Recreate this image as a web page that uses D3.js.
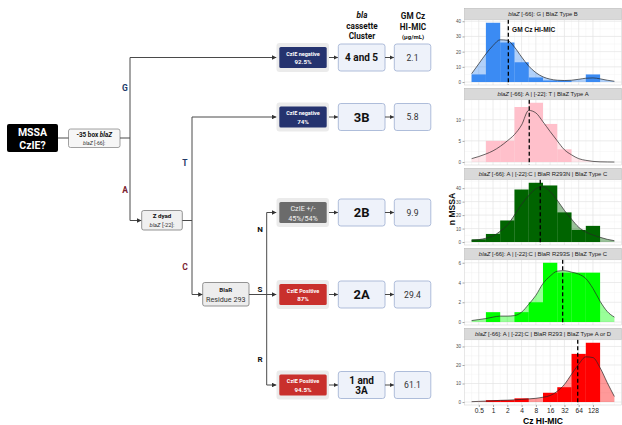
<!DOCTYPE html>
<meta charset='utf-8'>
<style>
body { margin: 0; background: #fff; }
svg { display: block; font-family: Roboto, 'Liberation Sans', sans-serif; }
.flow-line { stroke: #4a4a4a; stroke-width: 1; fill: none; }
.gg text { font-family: 'Liberation Sans', Arial, sans-serif; }
.axis .domain { display: none; }
.axis line { stroke: #555; stroke-width: 0.5; }
</style>
<svg width='622' height='425'></svg>
<script src='https://cdnjs.cloudflare.com/ajax/libs/d3/7.8.5/d3.min.js'></script>
<script>

// ---- histogram data (one entry per MIC doubling, centred on log2 value) ----
const micLabels = ['0.5', '1', '2', '4', '8', '16', '32', '64', '128'];
const micLog2 = [-1, 0, 1, 2, 3, 4, 5, 6, 7];

const countsTypeB = [5, 39, 26, 13, 3, 1, 1, 0, 5];
const countsTypeA = [0, 5, 5, 13, 14, 9, 3, 0, 0];
const countsR293N = [2, 6, 16, 39, 44, 42, 22, 9, 12];
const countsR293S = [0, 1, 0, 1, 2, 6, 5, 5, 5];
const countsR293 = [0, 1, 1, 2, 0, 5, 8, 26, 32];

// density curve at these log2 positions
const densityX = [-1.5, -1, -0.5, 0, 0.5, 1, 1.5, 2, 2.5, 3, 3.5, 4, 4.5, 5, 5.5, 6, 6.5, 7, 7.5, 8, 8.5];
const densityTypeB = [5.5, 12, 18.5, 24, 27.8, 27.5, 23, 16.5, 10.5, 6.2, 3.4, 1.9, 1.2, 1.0, 1.2, 1.8, 2.5, 2.7, 2.1, 1.2, 0.5];
const densityTypeA = [0.8, 1.3, 1.9, 2.65, 3.7, 5, 6.5, 8.75, 12.2, 11.6, 9.5, 7.2, 5, 2.9, 1.7, 0.8, 0.4, 0.15, 0.05, 0.02, 0];
const densityR293N = [1.2, 1.8, 2.8, 4.5, 8, 12.5, 20, 28, 34.5, 39.5, 41, 37.5, 31, 23.5, 17, 11, 7.5, 5.2, 3.5, 2, 1];
const densityR293S = [0.15, 0.25, 0.35, 0.5, 0.6, 0.6, 0.65, 1.0, 1.8, 2.7, 3.9, 4.65, 5.15, 5.2, 5.05, 4.85, 4.4, 3.4, 2.1, 1.07, 0.5];
const densityR293 = [0.2, 0.35, 0.5, 0.7, 0.9, 1.0, 1.2, 1.4, 1.7, 2.0, 2.6, 3.5, 5.8, 9.5, 15, 20.4, 24.4, 24, 18.5, 10.5, 3];

const gmValues = [2.1, 5.8, 9.9, 29.4, 61.1];
const stripRest = [' [-66]: G | BlaZ Type B', ' [-66]: A | [-22]: T | BlaZ Type A',
    ' [-66]: A | [-22]:C | BlaR R293N | BlaZ Type C', ' [-66]: A | [-22]:C | BlaR R293S | BlaZ Type C',
    ' [-66]: A | [-22]:C | BlaR R293 | BlaZ Type A or D'];

// ---- flowchart data ----
const czieLine1 = ['CzIE negative', 'CzIE negative', 'CzIE +/-', 'CzIE Positive', 'CzIE Positive'];
const czieLine2 = ['92.5%', '74%', '45%/54%', '87%', '94.5%'];
const clusters = [['4 and 5'], ['3B'], ['2B'], ['2A'], ['1 and', '3A']];

const histColors = ['#3b8bf3', '#ffc0cb', '#006400', '#00ff00', '#ff0000'];
const czieColors = ['#25336f', '#25336f', '#6b6b6b', '#c9302c', '#c9302c'];

const svg = d3.select('svg');

// arrow head
svg.append('defs').append('marker')
    .attr('id', 'arrow')
    .attr('viewBox', '0 0 6 6')
    .attr('refX', 6).attr('refY', 3)
    .attr('markerWidth', 4.5).attr('markerHeight', 4.5)
    .attr('orient', 'auto')
    .append('path').attr('d', 'M0,0L6,3L0,6Z').attr('fill', '#333');

// ================= flowchart =================
const flow = svg.append('g');
const rowY = [57.5, 117, 212.5, 294.5, 385];

function link(points, arrow) {
    flow.append('path')
        .attr('class', 'flow-line')
        .attr('d', d3.line()(points))
        .attr('marker-end', arrow ? 'url(#arrow)' : null);
}

function label(x, y, txt, size, weight, fill, style) {
    return flow.append('text')
        .attr('x', x).attr('y', y)
        .attr('text-anchor', 'middle')
        .attr('font-size', size)
        .attr('font-weight', weight || 'normal')
        .attr('font-style', style || 'normal')
        .attr('fill', fill || '#111')
        .text(txt);
}

// MSSA start box
flow.append('rect').attr('x', 7).attr('y', 124).attr('width', 51).attr('height', 28).attr('rx', 2).attr('fill', '#000');
label(32.5, 135.5, 'MSSA', 10.5, 'bold', '#fff');
label(32.5, 148.5, 'CzIE?', 10.5, 'bold', '#fff');

// -35 box
flow.append('rect').attr('x', 68.5).attr('y', 129).attr('width', 51.5).attr('height', 18.5).attr('rx', 2)
    .attr('fill', '#f6f6f6').attr('stroke', '#8a8a8a').attr('stroke-width', 0.8);
const t35 = label(94.2, 136.5, '', 6.4, 'bold');
t35.append('tspan').text('-35 box ');
t35.append('tspan').attr('font-style', 'italic').text('blaZ');
const t66 = label(94.2, 144.8, '', 5.2, 'normal', '#333');
t66.append('tspan').attr('font-style', 'italic').text('blaZ');
t66.append('tspan').text(' [-66]:');

link([[58, 138], [68.5, 138]]);
link([[120, 138], [130, 138]]);
link([[130, 57.5], [130, 220.5]]);
link([[130, 57.5], [276.5, 57.5]], true);
link([[130, 220.5], [141.5, 220.5]], true);

// Z dyad box
flow.append('rect').attr('x', 141.7).attr('y', 210.5).attr('width', 40.6).attr('height', 19.5).attr('rx', 2)
    .attr('fill', '#f0f0f0').attr('stroke', '#7a7a7a').attr('stroke-width', 0.8);
label(162, 217.5, 'Z dyad', 6.2, 'bold');
const t22 = label(162, 226.5, '', 5.8, 'normal', '#333');
t22.append('tspan').attr('font-style', 'italic').text('blaZ');
t22.append('tspan').text(' [-22]:');

link([[182.3, 220.5], [192, 220.5]]);
link([[192, 117], [192, 294.5]]);
link([[192, 117], [276.5, 117]], true);
link([[192, 294.5], [202.7, 294.5]], true);

// BlaR box
flow.append('rect').attr('x', 202.7).attr('y', 282.5).attr('width', 46.3).attr('height', 23.5).attr('rx', 2)
    .attr('fill', '#ededed').attr('stroke', '#7a7a7a').attr('stroke-width', 0.8);
label(225.8, 291.5, 'BlaR', 6.2, 'bold', '#222');
label(225.8, 301.5, 'Residue 293', 7.2, 'normal', '#333');

link([[249, 294.5], [276.5, 294.5]], true);
link([[266.7, 212.5], [266.7, 385]]);
link([[266.7, 212.5], [276.5, 212.5]], true);
link([[266.7, 385], [276.5, 385]], true);

// branch letters
label(125, 91, 'G', 8.5, 'bold', '#223a68');
label(125, 193, 'A', 8.5, 'bold', '#7a2330');
label(185, 165.5, 'T', 8.5, 'bold', '#223a68');
label(185, 269.5, 'C', 8.5, 'bold', '#7a2330');
label(260, 232, 'N', 8, 'bold', '#111');
label(260, 292, 'S', 8, 'bold', '#111');
label(260, 362, 'R', 8, 'bold', '#111');

// column headers
label(362, 18, 'bla', 8.2, 'bold', '#111', 'italic');
label(362, 28.6, 'cassette', 8.2, 'bold', '#111');
label(362, 38.9, 'Cluster', 8.2, 'bold', '#111');
label(413, 18.8, 'GM Cz', 8.2, 'bold', '#111');
label(413, 29.5, 'HI-MIC', 8.2, 'bold', '#111');
label(413, 38.9, '(\u00b5g/mL)', 6, 'bold', '#111');

// result rows
rowY.forEach((cy, i) => {
    flow.append('rect').attr('x', 276.5).attr('y', cy - 14.5).attr('width', 52.5).attr('height', 29).attr('rx', 3)
        .attr('fill', '#ebebeb');
    flow.append('rect').attr('x', 279.3).attr('y', cy - 10.5).attr('width', 47.4).attr('height', 21).attr('rx', 1.5)
        .attr('fill', czieColors[i]);
    if (i === 2) {
        label(303, cy - 1.6, czieLine1[i], 7.2, 'normal', '#f2f2f2');
        label(303, cy + 8.4, czieLine2[i], 7.2, 'normal', '#f2f2f2');
    } else {
        label(303, cy - 1.8, czieLine1[i], 5.5, 'bold', '#fff');
        label(303, cy + 6.8, czieLine2[i], 6.2, 'bold', '#fff');
    }

    link([[329, cy], [338, cy]], true);
    flow.append('rect').attr('x', 338.3).attr('y', cy - 13.5).attr('width', 46.7).attr('height', 27).attr('rx', 2.5)
        .attr('fill', '#eef2fa').attr('stroke', '#a6b5d6').attr('stroke-width', 0.9);
    const c = clusters[i];
    if (c.length === 2) {
        label(361.6, cy - 1.4, c[0], 10, 'bold');
        label(361.6, cy + 9.3, c[1], 10, 'bold');
    } else if (c[0].length > 3) {
        label(361.6, cy + 3.6, c[0], 10, 'bold');
    } else {
        label(361.6, cy + 4.6, c[0], 13, 'bold');
    }

    link([[385, cy], [394, cy]], true);
    flow.append('rect').attr('x', 394.3).attr('y', cy - 13.5).attr('width', 36.5).attr('height', 27).attr('rx', 2.5)
        .attr('fill', '#eef2fa').attr('stroke', '#a6b5d6').attr('stroke-width', 0.9);
    label(412.5, cy + 3, gmValues[i], 8.6, 'normal', '#333');
});

// ================= histograms =================
const gg = svg.append('g').attr('class', 'gg');
const panels = [
    { counts: countsTypeB, density: densityTypeB },
    { counts: countsTypeA, density: densityTypeA },
    { counts: countsR293N, density: densityR293N },
    { counts: countsR293S, density: densityR293S },
    { counts: countsR293, density: densityR293 }
];

const xScale = d3.scaleLinear().domain([-2, 9]).range([464.5, 621.5]);
const xMinor = d3.range(-1.5, 8.6, 1);

panels.forEach((p, i) => {
    const stripTop = 8.3 + 80 * i,
        plotTop = stripTop + 11.5,
        plotBot = plotTop + 65.2;
    const yMax = Math.max(d3.max(p.counts), d3.max(p.density));
    const yScale = d3.scaleLinear().domain([-0.05 * yMax, 1.05 * yMax]).range([plotBot, plotTop]);
    const yTicks = yScale.ticks(4);
    const step = yTicks[1] - yTicks[0];
    const yMinor = yTicks.map(t => t + step / 2).filter(t => t < yScale.domain()[1]);

    const g = gg.append('g');

    // strip
    g.append('rect').attr('x', xScale.range()[0]).attr('y', stripTop)
        .attr('width', xScale.range()[1] - xScale.range()[0]).attr('height', 11.5)
        .attr('fill', '#d9d9d9').attr('stroke', '#b3b3b3').attr('stroke-width', 0.5);
    const st = g.append('text').attr('x', (xScale.range()[0] + xScale.range()[1]) / 2).attr('y', stripTop + 8)
        .attr('text-anchor', 'middle').attr('font-size', 5.9).attr('fill', '#1a1a1a');
    st.append('tspan').attr('font-style', 'italic').text('blaZ');
    st.append('tspan').text(stripRest[i]);

    // panel background + grid
    g.append('rect').attr('x', xScale.range()[0]).attr('y', plotTop)
        .attr('width', xScale.range()[1] - xScale.range()[0]).attr('height', plotBot - plotTop)
        .attr('fill', '#fff');
    g.selectAll('.xminor').data(xMinor).join('line')
        .attr('x1', d => xScale(d)).attr('x2', d => xScale(d)).attr('y1', plotTop).attr('y2', plotBot)
        .attr('stroke', '#f2f2f2').attr('stroke-width', 0.5);
    g.selectAll('.yminor').data(yMinor).join('line')
        .attr('x1', xScale.range()[0]).attr('x2', xScale.range()[1]).attr('y1', d => yScale(d)).attr('y2', d => yScale(d))
        .attr('stroke', '#f2f2f2').attr('stroke-width', 0.5);
    g.selectAll('.xmajor').data(micLog2).join('line')
        .attr('x1', d => xScale(d)).attr('x2', d => xScale(d)).attr('y1', plotTop).attr('y2', plotBot)
        .attr('stroke', '#e4e4e4').attr('stroke-width', 0.7);
    g.selectAll('.ymajor').data(yTicks).join('line')
        .attr('x1', xScale.range()[0]).attr('x2', xScale.range()[1]).attr('y1', d => yScale(d)).attr('y2', d => yScale(d))
        .attr('stroke', '#e4e4e4').attr('stroke-width', 0.7);

    // density area under the bars
    const pts = densityX.map((x, k) => [x, p.density[k]]);
    g.append('path').datum(pts)
        .attr('d', d3.area().x(d => xScale(d[0])).y0(yScale(0)).y1(d => yScale(d[1])).curve(d3.curveMonotoneX))
        .attr('fill', histColors[i]).attr('fill-opacity', 0.4);

    // histogram bars
    g.selectAll('.bar').data(p.counts.map((c, k) => [micLog2[k], c]).filter(d => d[1] > 0)).join('rect')
        .attr('x', d => xScale(d[0] - 0.5))
        .attr('width', d => xScale(d[0] + 0.5) - xScale(d[0] - 0.5))
        .attr('y', d => yScale(d[1]))
        .attr('height', d => yScale(0) - yScale(d[1]))
        .attr('fill', histColors[i]);

    // density line
    g.append('path').datum(pts)
        .attr('d', d3.line().x(d => xScale(d[0])).y(d => yScale(d[1])).curve(d3.curveMonotoneX))
        .attr('fill', 'none').attr('stroke', '#262626').attr('stroke-width', 0.7);

    // geometric mean
    g.append('line')
        .attr('x1', xScale(Math.log2(gmValues[i]))).attr('x2', xScale(Math.log2(gmValues[i])))
        .attr('y1', plotTop).attr('y2', plotBot)
        .attr('stroke', '#000').attr('stroke-width', 1.3).attr('stroke-dasharray', '4,2.5');

    g.append('rect').attr('x', xScale.range()[0]).attr('y', plotTop)
        .attr('width', xScale.range()[1] - xScale.range()[0]).attr('height', plotBot - plotTop)
        .attr('fill', 'none').attr('stroke', '#cfcfcf').attr('stroke-width', 0.5);

    // y axis
    const yAxis = g.append('g').attr('class', 'axis')
        .attr('transform', `translate(${xScale.range()[0]},0)`)
        .call(d3.axisLeft(yScale).tickValues(yTicks).tickFormat(d3.format('d')).tickSize(2).tickPadding(1.5));
    yAxis.selectAll('text').attr('font-size', 4.6).attr('fill', '#4d4d4d');

    if (i === 0) {
        g.append('text').attr('x', 512).attr('y', 31.5).attr('font-size', 6.6).attr('font-weight', 'bold')
            .attr('fill', '#111').text('GM Cz HI-MIC');
    }

    if (i === panels.length - 1) {
        const xAxis = g.append('g').attr('class', 'axis')
            .attr('transform', `translate(0,${plotBot})`)
            .call(d3.axisBottom(xScale).tickValues(micLog2).tickFormat((d, k) => micLabels[k]).tickSize(2).tickPadding(1.5));
        xAxis.selectAll('text').attr('font-size', 6.6).attr('fill', '#1a1a1a');
        g.append('text').attr('x', (xScale.range()[0] + xScale.range()[1]) / 2).attr('y', 423.8)
            .attr('text-anchor', 'middle').attr('font-size', 8.6).attr('font-weight', 'bold').text('Cz HI-MIC');
    }
});

gg.append('text')
    .attr('transform', 'translate(454.8,209) rotate(-90)')
    .attr('text-anchor', 'middle').attr('font-size', 8.6).attr('font-weight', 'bold').attr('fill', '#111')
    .text('n MSSA');
</script>
